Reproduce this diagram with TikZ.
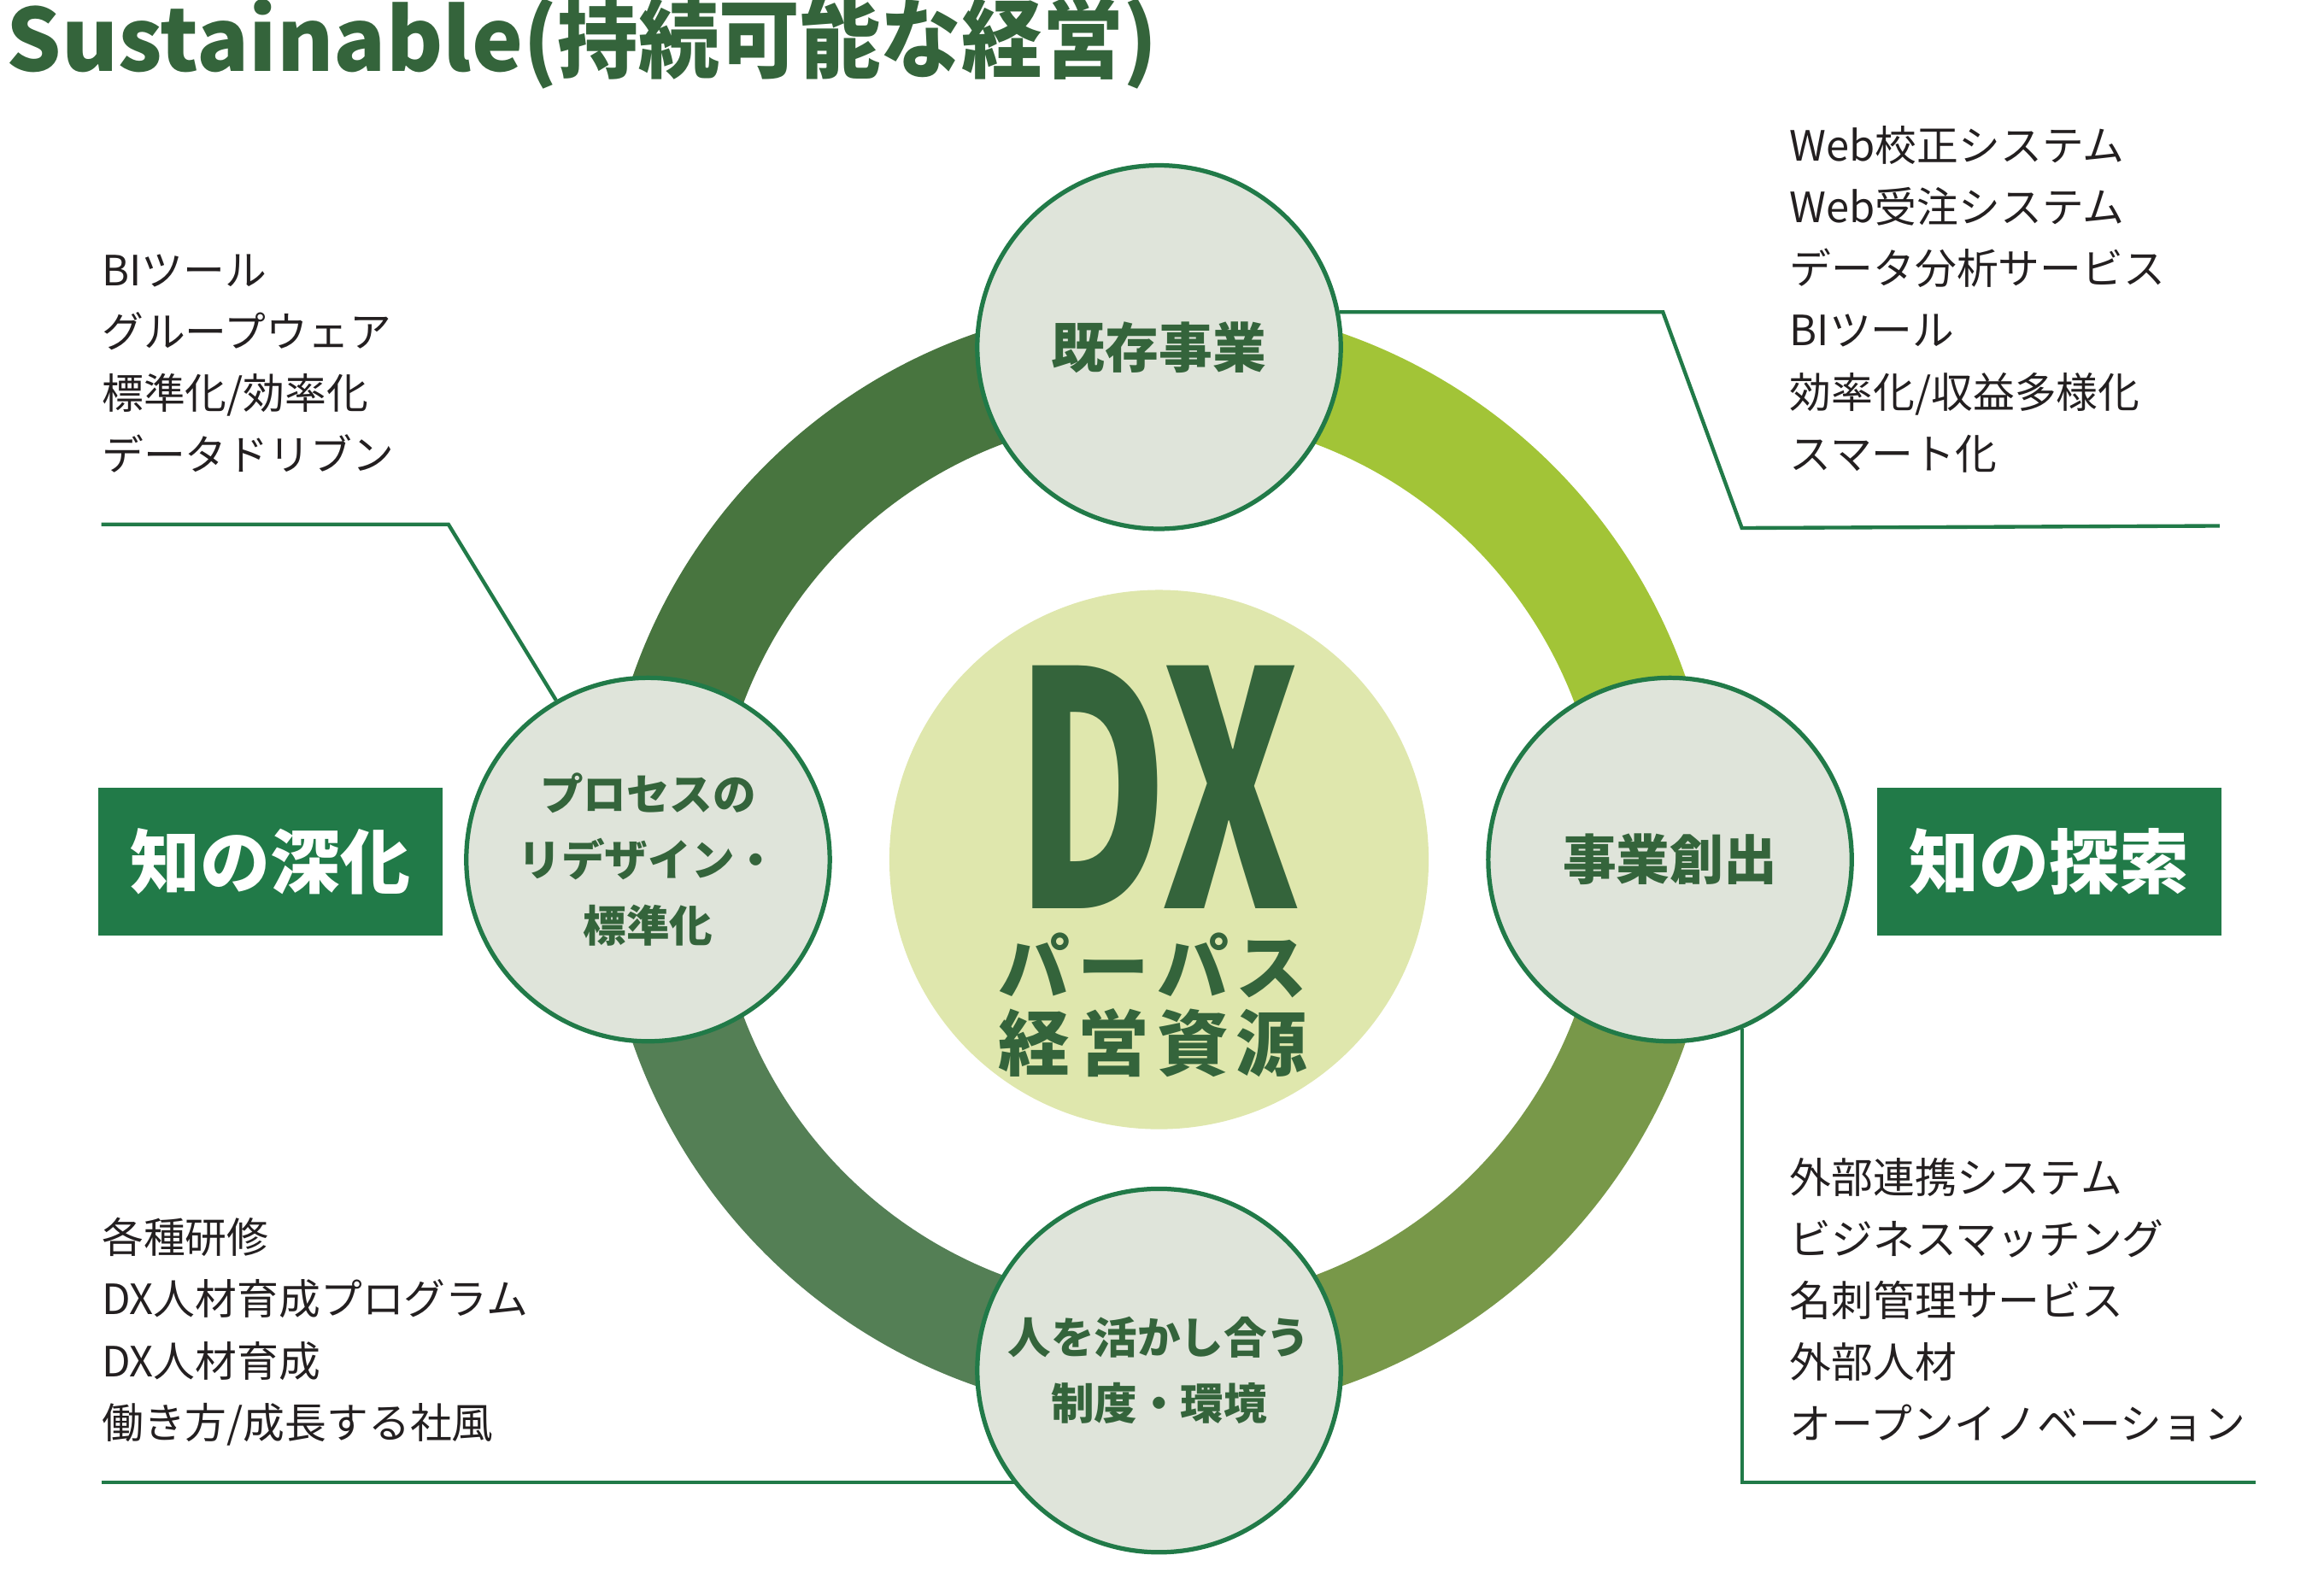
\documentclass[tikz,border=0pt]{standalone}
\usepackage{fontspec}
\setmainfont{Noto Sans CJK JP}
\definecolor{titlegreen}{HTML}{34643B}
\definecolor{boxgreen}{HTML}{217A48}
\definecolor{circfill}{HTML}{DFE4DA}
\definecolor{centerfill}{HTML}{DFE7AD}
\definecolor{ringTL}{HTML}{48753F}
\definecolor{ringTR}{HTML}{A2C437}
\definecolor{ringBR}{HTML}{789849}
\definecolor{ringBL}{HTML}{547F55}
\definecolor{listtext}{HTML}{231F20}
\newcommand{\gapc}{\hspace{2.6pt}}
\begin{document}
\begin{tikzpicture}[x=0.5pt,y=-0.5pt,
  phase/.style={circle, draw=boxgreen, line width=1.5pt, fill=circfill, minimum size=122pt,
    inner sep=0pt, text=titlegreen, font=\bfseries\fontsize{14.5}{22}\selectfont, align=center},
  listline/.style={anchor=base west, inner sep=0pt, text=listtext, font=\fontsize{14}{16}\selectfont},
  conn/.style={draw=boxgreen, line width=1.25pt},
  knowbox/.style={fill=boxgreen, minimum width=115.5pt, minimum height=49.5pt, inner sep=0pt,
    text=white, font=\bfseries\fontsize{23.5}{26}\selectfont},
  centertext/.style={inner sep=0pt, text=titlegreen, font=\bfseries\fontsize{24}{26}\selectfont}]

\useasboundingbox (0,0) rectangle (1560,1071.3);

% title
\node[anchor=base west, inner sep=0pt, text=titlegreen, font=\bfseries\fontsize{29}{32}\selectfont]
  (title) at (4,48) {Sustainable(\scalebox{0.935}[1]{持続可能な経営})};

% ring
\fill[ringTL] (778,577) ++(180:374) arc[start angle=180,end angle=270,radius=374]
  -- ++(0,76) arc[start angle=270,end angle=180,radius=298] -- cycle;
\fill[ringTR] (778,577) ++(270:374) arc[start angle=270,end angle=360,radius=374]
  -- ++(-76,0) arc[start angle=360,end angle=270,radius=298] -- cycle;
\fill[ringBR] (778,577) ++(0:374) arc[start angle=0,end angle=90,radius=374]
  -- ++(0,-76) arc[start angle=90,end angle=0,radius=298] -- cycle;
\fill[ringBL] (778,577) ++(90:374) arc[start angle=90,end angle=180,radius=374]
  -- ++(76,0) arc[start angle=180,end angle=90,radius=298] -- cycle;

% centre
\fill[centerfill] (778,577) circle[radius=181];
\node[inner sep=0pt, text=titlegreen] (dx) at (777,528.5) {\resizebox{96pt}{81.5pt}{\bfseries DX}};
\node[centertext] (purpose) at (774,648) {パ\gapc ー\gapc パ\gapc ス};
\node[centertext] (resource) at (774,700) {経\gapc 営\gapc 資\gapc 源};

% phase circles
\node[phase, font=\bfseries\fontsize{18}{22}\selectfont] (kizon) at (778,233) {既存事業};
\node[phase, font=\bfseries\fontsize{18}{22}\selectfont] (sosyutsu) at (1121,577) {事業創出};
\node[phase] (process) at (435,577) {プロセスの\\リデザイン・\\標準化};
\node[phase] (hito) at (778,920) {人を活かし合う\\制度・環境};

% knowledge boxes
\node[knowbox] (shinka) at (181.5,578.5) {知の深化};
\node[knowbox] (tansaku) at (1375.5,578.5) {知の探索};

% connectors
\coordinate (ltend) at (68,352);
\coordinate (rtend) at (1490,353);
\coordinate (lbend) at (68,995);
\coordinate (rbend) at (1514,995);
\draw[conn] (ltend) -- (301,352) -- (process.120.5);
\draw[conn] (kizon.11.8) -- ++(217,0) -- ++(53,145) -- (rtend);
\draw[conn] (lbend) -- (lbend -| hito.218);
\draw[conn] (sosyutsu.293.2) |- (rbend);

% lists
\foreach \t [count=\i] in {BIツール,グループウェア,標準化/効率化,データドリブン}
  \node[listline] (lt\i) at (68,{192+41.2*(\i-1)}) {\t};
\foreach \t [count=\i] in {Web校正システム,Web受注システム,データ分析サービス,BIツール,効率化/収益多様化,スマート化}
  \node[listline] (rt\i) at (1201,{108+41.4*(\i-1)}) {\t};
\foreach \t [count=\i] in {各種研修,DX人材育成プログラム,DX人材育成,働き方/成長する社風}
  \node[listline] (lb\i) at (68,{841+41.6*(\i-1)}) {\t};
\foreach \t [count=\i] in {外部連携システム,ビジネスマッチング,名刺管理サービス,外部人材,オープンイノベーション}
  \node[listline] (rb\i) at (1201,{801+41.3*(\i-1)}) {\t};
\end{tikzpicture}
\end{document}
